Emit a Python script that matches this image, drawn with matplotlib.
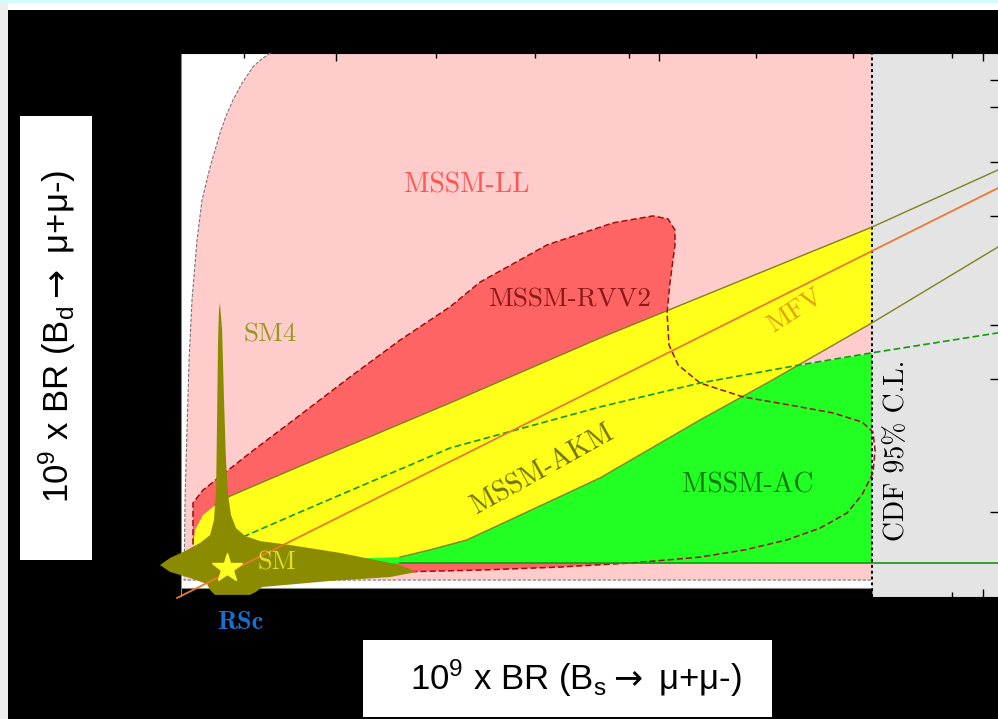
import numpy as np
import matplotlib.pyplot as plt
from matplotlib.patches import Polygon, Rectangle

# B(Bs -> mu mu) and B(Bd -> mu mu), both in units of 1e-9

# MSSM-LL envelope: left boundary from the top edge down to its floor
ll_x = [5.94, 5.30, 4.88, 4.20, 3.65, 3.20, 2.84, 2.23, 1.73, 1.42, 1.11, 0.93, 0.80, 0.68, 0.62]
ll_y = [1.80, 1.775, 1.754, 1.700, 1.645, 1.590, 1.535, 1.423, 1.314, 1.181, 0.983, 0.784,
        0.553, 0.321, 0.056]
ll_floor = 0.056

# MSSM-RVV2 region outline
rvv_x = [1.17, 1.17, 1.79, 4.70, 7.79, 10.88, 13.97, 17.06, 18.92, 23.06, 27.14, 29.61,
         30.54, 30.97, 30.97, 30.66, 30.48, 30.60, 31.16, 32.52, 35.18, 38.08, 40.74,
         42.53, 43.21, 43.34, 43.21, 42.53, 41.61, 39.94, 37.90, 35.30, 32.52, 28.38,
         23.86, 18.92, 13.97]
rvv_y = [0.083, 0.311, 0.354, 0.477, 0.602, 0.728, 0.850, 0.960, 1.042, 1.165, 1.238, 1.261,
         1.251, 1.214, 1.165, 1.039, 0.940, 0.834, 0.768, 0.708, 0.662, 0.635, 0.609,
         0.579, 0.546, 0.486, 0.410, 0.338, 0.278, 0.228, 0.189, 0.156, 0.132, 0.113,
         0.099, 0.089, 0.083]

# MFV band: upper and lower edges
mfv_up_x = [1.17, 1.30, 1.79, 2.53, 3.46, 7.79, 17.06, 26.34, 43.15, 50.94]
mfv_up_y = [0.162, 0.222, 0.271, 0.304, 0.334, 0.433, 0.642, 0.857, 1.224, 1.413]
mfv_lo_x = [1.61, 7.79, 13.97, 15.83, 18.11, 20.77, 26.34, 32.52, 36.66, 43.15, 50.94]
mfv_lo_y = [0.122, 0.122, 0.132, 0.156, 0.189, 0.255, 0.394, 0.586, 0.708, 0.907, 1.158]

# MFV central line
mfv_x = [0.19, 50.94]
mfv_y = [-0.003, 1.353]

# MSSM-AC region: upper boundary and floor
ac_x = [4.27, 7.79, 17.06, 26.34, 32.52, 38.70, 43.03, 50.94]
ac_y = [0.199, 0.281, 0.493, 0.629, 0.708, 0.768, 0.807, 0.874]
ac_floor = 0.113

# SM4 region
sm4_x = [2.84, 2.97, 3.09, 3.21, 3.34, 3.52, 3.83, 4.39, 5.32, 7.17, 10.26, 13.97, 15.02,
         13.35, 9.64, 5.44, 5.07, 4.70, 2.53, 2.23, 2.04, 0.99, -0.25, -0.87, -0.25, 0.68,
         1.61, 2.23, 2.47, 2.60, 2.66, 2.72, 2.78]
sm4_y = [0.973, 0.884, 0.652, 0.453, 0.338, 0.271, 0.228, 0.202, 0.185, 0.172, 0.146, 0.106,
         0.083, 0.066, 0.053, 0.033, 0.017, 0.007, 0.007, 0.023, 0.043, 0.063, 0.083, 0.106,
         0.129, 0.152, 0.179, 0.205, 0.255, 0.354, 0.586, 0.850, 0.950]

# Standard Model point
sm_bs, sm_bd = 3.28, 0.096

# CDF 95% C.L. upper bound on Bs
cdf_bs = 43.15

# tick positions
xt_major = [10, 30, 50]
xt_minor = [4.3, 16.2, 22.3, 28.1, 36.0, 42.0, 48.1]
yt_right = [0.28, 0.72, 0.90, 1.26, 1.44, 1.62, 1.71]

W, H = 998, 719
fig = plt.figure(figsize=(W / 100, H / 100), dpi=100, facecolor='black')

# page strips around the slide
fig.add_artist(Rectangle((0, 1 - 3 / H), 1, 3 / H, transform=fig.transFigure,
                         color='#d4fafa', lw=0))
fig.add_artist(Rectangle((8 / W, 1 - 10 / H), 1, 7 / H, transform=fig.transFigure,
                         color='white', lw=0))
fig.add_artist(Rectangle((0, 0), 8 / W, 1 - 3 / H, transform=fig.transFigure,
                         color='#eeeeee', lw=0))

ax = fig.add_axes([181 / W, (H - 597) / H, 817 / W, 544 / H])
ax.set_xlim(0.43, 50.94)
ax.set_ylim(0, 1.8)
ax.set_facecolor('white')

# MSSM-LL
ll_poly = [(ll_x[0], 2.0)] + list(zip(ll_x, ll_y)) + [(60, ll_floor), (60, 2.0)]
ax.add_patch(Polygon(ll_poly, closed=True, facecolor='#ffcccc', lw=0, zorder=1.0))
ax.plot(ll_x + [cdf_bs], ll_y + [ll_floor], color='#777777', lw=0.8,
        ls=(0, (3, 1.5)), zorder=3)

# MSSM-RVV2
ax.add_patch(Polygon(list(zip(rvv_x, rvv_y)), closed=True, facecolor='#ff6464',
                     lw=0, zorder=1.1))

# MSSM-AC
ax.fill_between(ac_x, ac_floor, ac_y, color='#22ff22', lw=0, zorder=1.2)

# MFV band
mfv_poly = list(zip(mfv_up_x, mfv_up_y)) + list(zip(mfv_lo_x, mfv_lo_y))[::-1]
ax.add_patch(Polygon(mfv_poly, closed=True, facecolor='#ffff1a', lw=0, zorder=1.3))

# region beyond the CDF bound
ax.add_patch(Rectangle((cdf_bs, 0), 20, 2.0, facecolor='#e4e4e4', lw=0, zorder=1.4))
ax.add_patch(Rectangle((0.43, 0), cdf_bs - 0.43, 0.030, facecolor='black',
                       edgecolor='#888888', lw=0.8, zorder=1.45))
ax.axvline(cdf_bs, color='black', lw=1.4, ls=(0, (1.5, 1.5)), zorder=3)

# boundary lines
ax.plot(mfv_up_x[3:], mfv_up_y[3:], color='#808020', lw=1.0, zorder=8)
ax.plot(mfv_lo_x[2:], mfv_lo_y[2:], color='#808020', lw=1.0, zorder=8)
ax.plot(rvv_x + [rvv_x[0]], rvv_y + [rvv_y[0]], color='#991111', lw=1.1,
        ls=(0, (4, 2)), zorder=8)
ax.plot(ac_x, ac_y, color='#119911', lw=1.2, ls=(0, (4, 2)), zorder=8)
ax.plot([13.97, 50.94], [ac_floor, ac_floor], color='#119911', lw=1.2, zorder=8)

# SM4
ax.add_patch(Polygon(list(zip(sm4_x, sm4_y)), closed=True, facecolor='#8b8b00',
                     lw=0, zorder=9, clip_on=False))

ax.plot(mfv_x, mfv_y, color='#ee7733', lw=1.3, zorder=10, clip_on=False)
ax.plot(sm_bs, sm_bd, marker='*', ms=22, color='#ffff22', mec='#ffff22', zorder=11)

cm = dict(fontfamily='cmr10', ha='center', va='center', zorder=12)
ax.text(18.11, 1.363, 'MSSM-LL', color='#ff5555', fontsize=20, **cm)
ax.text(24.48, 0.983, 'MSSM-RVV2', color='#8b1a1a', fontsize=19.5, **cm)
ax.text(5.94, 0.867, 'SM4', color='#999922', fontsize=19.5, **cm)
ax.text(38.39, 0.950, 'MFV', color='#e0a010', fontsize=19, rotation=33, **cm)
ax.text(22.81, 0.420, 'MSSM-AKM', color='#707000', fontsize=20, rotation=29, **cm)
ax.text(35.49, 0.371, 'MSSM-AC', color='#117711', fontsize=20, **cm)
ax.text(44.70, 0.486, 'CDF 95% C.L.', color='black', fontsize=20, rotation=90, **cm)
ax.text(6.37, 0.113, 'SM', color='#e0e020', fontsize=19, **cm)
ax.text(4.08, -0.086, 'RSc', color='#1a6ed0', fontsize=19, fontfamily='cmb10',
        ha='center', va='center', zorder=12)

ax.set_xticks(xt_major)
ax.set_xticks(xt_minor, minor=True)
ax.set_yticks(yt_right)
ax.tick_params(which='both', direction='in', top=True, bottom=True, right=True,
               left=False, labelbottom=False, labelleft=False, color='black', width=1)
ax.tick_params(which='major', length=6)
ax.tick_params(which='minor', length=3.5)
ax.spines['left'].set_color('#888888')
ax.spines['left'].set_linewidth(0.8)
ax.spines['right'].set_visible(False)
ax.spines['top'].set_color('black')
ax.spines['bottom'].set_color('black')

# axis titles in white boxes
sans = ['Liberation Sans', 'DejaVu Sans']
fig.add_artist(Rectangle((20 / W, (H - 560) / H), 72 / W, 444 / H,
                         transform=fig.transFigure, color='white', lw=0))
fig.text(57 / W, 1 - 336 / H,
         r'$\mathregular{10^9}$ x BR (B$\mathregular{_d}\rightarrow$ μ+μ-)',
         rotation=90, ha='center', va='center', fontsize=25, fontfamily=sans)
fig.add_artist(Rectangle((363 / W, (H - 717) / H), 409 / W, 77 / H,
                         transform=fig.transFigure, color='white', lw=0))
fig.text(576 / W, 1 - 678 / H,
         r'$\mathregular{10^9}$ x BR (B$\mathregular{_s}\rightarrow$ μ+μ-)',
         ha='center', va='center', fontsize=25, fontfamily=sans)

fig.savefig('out.png', dpi=100, facecolor='black')
